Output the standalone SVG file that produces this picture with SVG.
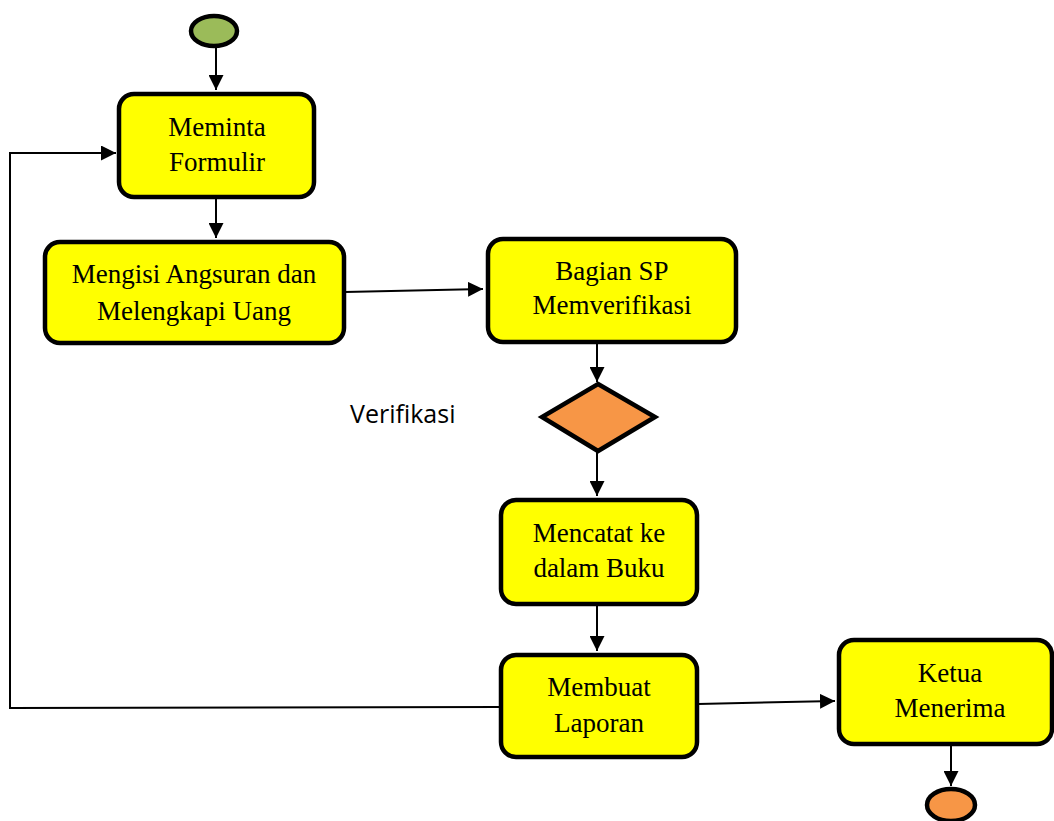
<svg xmlns="http://www.w3.org/2000/svg" width="1054" height="821" viewBox="0 0 1054 821">
<style>
.box{fill:#FFFF00;stroke:#000;stroke-width:4.5}
.lbl{font-family:"Liberation Serif","Times New Roman",serif;font-size:27px;fill:#000;text-anchor:middle}
.conn{fill:none;stroke:#000;stroke-width:2}
</style>
<defs>
<marker id="ah" viewBox="0 0 15 15" refX="15" refY="7.5" markerWidth="15" markerHeight="15" markerUnits="userSpaceOnUse" orient="auto">
<path d="M0,0 L15,7.5 L0,15 Z" fill="#000"/>
</marker>
</defs>
<rect width="1054" height="821" fill="#fff"/>
<g id="connectors">
<line class="conn" x1="216" y1="47" x2="216" y2="90" marker-end="url(#ah)"/>
<line class="conn" x1="216" y1="198" x2="216" y2="238" marker-end="url(#ah)"/>
<line class="conn" x1="345" y1="292" x2="483" y2="289" marker-end="url(#ah)"/>
<line class="conn" x1="597" y1="343" x2="597" y2="382" marker-end="url(#ah)"/>
<line class="conn" x1="597" y1="452" x2="597" y2="496" marker-end="url(#ah)"/>
<line class="conn" x1="597" y1="605" x2="597" y2="651" marker-end="url(#ah)"/>
<line class="conn" x1="698" y1="704" x2="835" y2="701" marker-end="url(#ah)"/>
<line class="conn" x1="951" y1="745" x2="951" y2="786" marker-end="url(#ah)"/>
<polyline class="conn" points="500,707 10,708 10,153 116,153" marker-end="url(#ah)"/>
</g>
<g id="start"><ellipse cx="214" cy="31" rx="23" ry="15" fill="#9BBB59" stroke="#000" stroke-width="4.5"/></g>
<g id="n1"><rect class="box" x="119" y="94" width="195" height="103" rx="15"/>
<text class="lbl" x="217" y="136">Meminta</text><text class="lbl" x="217" y="171">Formulir</text></g>
<g id="n2"><rect class="box" x="45" y="242" width="299" height="101" rx="15"/>
<text class="lbl" x="194" y="283">Mengisi Angsuran dan</text><text class="lbl" x="194" y="320">Melengkapi Uang</text></g>
<g id="n3"><rect class="box" x="488" y="239" width="248" height="103" rx="15"/>
<text class="lbl" x="612" y="280">Bagian SP</text><text class="lbl" x="612" y="314">Memverifikasi</text></g>
<g id="decision"><polygon points="598,384 655,417 598,451 542,417" fill="#F79646" stroke="#000" stroke-width="4.5"/></g>
<text x="350" y="423" font-family="'Open Sans','Liberation Sans',sans-serif" font-size="25" fill="#000">Verifikasi</text>
<g id="n4"><rect class="box" x="501" y="500" width="196" height="104" rx="15"/>
<text class="lbl" x="599" y="542">Mencatat ke</text><text class="lbl" x="599" y="577">dalam Buku</text></g>
<g id="n5"><rect class="box" x="501" y="655" width="196" height="102" rx="15"/>
<text class="lbl" x="599" y="696">Membuat</text><text class="lbl" x="599" y="732">Laporan</text></g>
<g id="n6"><rect class="box" x="839" y="640" width="213" height="104" rx="15"/>
<text class="lbl" x="950" y="682">Ketua</text><text class="lbl" x="950" y="717">Menerima</text></g>
<g id="end"><ellipse cx="951" cy="805" rx="24" ry="16" fill="#F79646" stroke="#000" stroke-width="4.5"/></g>
</svg>
